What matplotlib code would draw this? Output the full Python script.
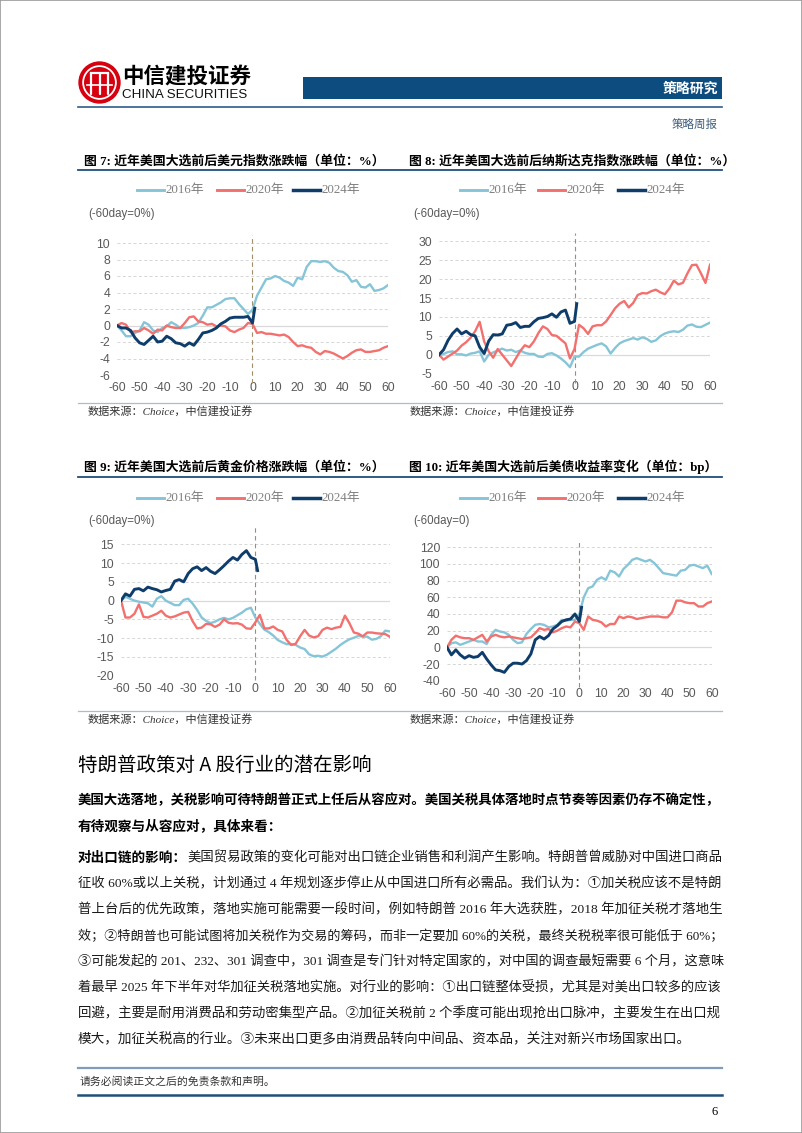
import matplotlib
matplotlib.use('Agg')
import matplotlib.pyplot as plt
from matplotlib.lines import Line2D
from matplotlib.patches import Rectangle, Circle

# ---------------- data ----------------
days_full = list(range(-60, 61, 2))
days_2024 = list(range(-60, 1, 2)) + [1]

dollar_2016 = [0, -0.6, -1.3, -1.3, -0.9, -0.6, 0.4, 0.1, -0.6, -0.8,
               -0.3, -0.1, 0.4, 0.1, -0.3, -0.3, -0.2, 0.0, 0.3, 1.2,
               2.2, 2.2, 2.5, 2.8, 3.2, 3.3, 3.3, 2.6, 2.0, 1.4,
               1.9, 3.6, 4.6, 5.6, 5.7, 6.0, 5.8, 5.4, 5.2, 4.8,
               5.8, 5.6, 7.1, 7.8, 7.8, 7.7, 7.8, 7.6, 7.0, 6.6,
               6.5, 6.1, 5.3, 5.5, 4.7, 4.6, 5.0, 4.2, 4.3, 4.5,
               4.9]
dollar_2020 = [0, 0.3, 0.1, -0.8, -0.7, -0.7, -0.3, -0.6, -1.0, -0.5,
               -0.6, 0.0, -0.2, -0.3, -0.3, 0.3, 1.0, 1.1, 0.5, 0.4,
               0.1, 0.2, -0.1, 0.0, -0.1, -0.6, -0.8, -0.5, -0.3, 0.3,
               0.2, -0.9, -0.8, -1.0, -1.0, -1.1, -1.2, -1.1, -1.4, -2.0,
               -2.5, -2.4, -2.6, -2.7, -3.2, -3.5, -3.1, -3.2, -3.4, -3.7,
               -4.0, -3.7, -3.3, -3.0, -2.9, -3.2, -3.2, -3.1, -3.0, -2.7,
               -2.5]
dollar_2024 = [0, -0.3, -0.3, -0.6, -1.5, -2.1, -2.3, -1.8, -1.3, -2.0,
               -1.9, -1.3, -1.6, -2.1, -2.2, -2.5, -2.1, -2.4, -1.7, -0.9,
               -0.8, -0.6, -0.3, 0.2, 0.5, 0.9, 1.0, 1.0, 1.0, 1.1,
               0.3, 2.1]

nasdaq_2016 = [0, 0.2, 0.7, 0.9, 0.1, 0.1, -0.2, 0.3, 0.5, 0.9,
               -1.8, 0.0, 0.6, 1.1, 1.6, 1.1, 1.3, 0.7, 1.1, 0.5,
               0.2, 0.2, -0.5, -0.6, 0.2, 0.4, -0.2, -1.0, -2.0, -3.3,
               -0.5, -0.5, 0.7, 1.6, 2.1, 2.6, 3.0, 2.2, 0.3, 1.8,
               3.0, 3.6, 4.0, 4.4, 4.0, 4.6, 4.2, 3.4, 3.8, 4.9,
               5.6, 6.0, 6.2, 6.0, 6.6, 7.7, 8.0, 7.4, 7.3, 7.9,
               8.5]
nasdaq_2020 = [0, -1.3, -0.5, 0.3, 1.1, 2.4, 3.3, 4.5, 6.2, 8.7,
               3.5, 0.9, -0.8, 1.5, 0.0, -1.5, -3.0, -1.0, 1.0, 2.5,
               2.0, 3.5, 5.7, 7.5, 6.8, 5.2, 5.0, 4.0, 3.0, -1.0,
               1.5, 7.9, 7.0, 5.5, 7.5, 7.8, 7.8, 8.8, 10.5, 12.3,
               13.5, 14.2, 12.5, 13.7, 15.8, 16.3, 16.2, 16.8, 17.2, 16.5,
               16.0, 17.5, 19.6, 18.6, 19.0, 21.5, 23.7, 23.8, 21.5, 19.0,
               23.8]
nasdaq_2024 = [0, 1.3, 3.8, 5.6, 6.8, 5.5, 6.2, 5.3, 5.0, 2.0,
               0.3, 3.6, 5.3, 5.2, 5.5, 7.8, 8.0, 8.5, 7.2, 7.5,
               7.5, 8.7, 9.6, 9.8, 10.1, 10.8, 9.9, 11.3, 11.8, 8.3,
               8.8, 13.5]

gold_2016 = [0, 1.0, 0.5, 0.0, -0.3, -0.5, -0.7, -1.6, 0.5, 1.2,
             0.0, -0.6, -1.2, -1.2, 0.2, 0.5, -0.8, -2.5, -4.5, -5.4,
             -6.0, -5.6, -5.0, -4.6, -5.0, -4.6, -3.9, -3.2, -2.3, -1.9,
             -4.5, -6.2, -7.7, -8.4, -9.3, -10.5, -11.1, -11.6, -11.6, -11.8,
             -12.5, -12.9, -14.3, -14.8, -14.7, -14.9, -14.4, -13.6, -12.8, -11.8,
             -11.0, -10.3, -9.9, -9.4, -9.6, -9.6, -10.4, -10.2, -9.5, -8.0,
             -8.2]
gold_2020 = [0, -4.5, -4.5, -3.5, -1.0, -4.3, -4.5, -4.0, -3.5, -2.7,
             -4.0, -4.5, -4.2, -3.7, -3.2, -3.0, -5.5, -7.4, -7.2, -6.2,
             -6.3, -7.0, -6.4, -5.0, -5.9, -6.1, -6.0, -6.4, -7.4, -7.5,
             -5.8, -3.8, -7.4, -7.4, -6.9, -7.8, -8.2, -10.5, -11.8, -11.5,
             -9.5, -7.8, -9.3, -9.8, -9.5, -7.8, -7.2, -7.6, -7.2, -7.0,
             -4.0, -6.0, -8.5, -8.8, -9.5, -8.5, -8.5, -8.7, -8.8, -8.9,
             -9.6]
gold_2024 = [0, 1.8, 1.2, 3.0, 3.2, 2.6, 3.6, 3.2, 2.9, 2.3,
             2.7, 3.0, 5.2, 5.6, 5.0, 7.2, 8.5, 9.0, 8.0, 8.8,
             7.8, 7.2, 8.2, 9.3, 10.5, 11.5, 10.8, 12.3, 13.3, 11.5,
             11.0, 8.0]

yield_2016 = [0, 5, 6, 3, 5, 7, 9, 7, 7, 4,
              15, 21, 19, 18, 15, 9, 5, 6, 16, 22,
              27, 28, 27, 24, 25, 27, 33, 32, 33, 33,
              40, 60, 71, 73, 81, 84, 81, 92, 90, 85,
              94, 99, 105, 107, 105, 103, 105, 101, 95, 89,
              88, 87, 86, 92, 93, 98, 99, 97, 95, 98,
              88]
yield_2020 = [0, 9, 14, 12, 11, 11, 9, 12, 15, 7,
              13, 15, 13, 12, 13, 12, 11, 10, 11, 12,
              17, 23, 21, 22, 18, 20, 23, 25, 24, 31,
              29, 21, 37, 33, 32, 30, 25, 28, 28, 37,
              35, 37, 36, 34, 35, 36, 37, 37, 37, 36,
              36, 42, 56, 56, 54, 53, 53, 49, 49, 53,
              55]
yield_2024 = [0, -9, -3, -9, -13, -10, -12, -11, -6, -14,
              -21, -27, -28, -30, -23, -19, -19, -20, -16, -8,
              9, 13, 10, 14, 22, 26, 31, 33, 34, 40,
              31, 48]

series_names = ['2016年', '2020年', '2024年']
x_ticks = list(range(-60, 61, 10))

titles = ['图 7: 近年美国大选前后美元指数涨跌幅（单位：%）',
          '图 8: 近年美国大选前后纳斯达克指数涨跌幅（单位：%）',
          '图 9: 近年美国大选前后黄金价格涨跌幅（单位：%）',
          '图 10: 近年美国大选前后美债收益率变化（单位：bp）']
unit_labels = ['(-60day=0%)', '(-60day=0%)', '(-60day=0%)', '(-60day=0)']
source_text = '数据来源：Choice，中信建投证券'

heading = '特朗普政策对 A 股行业的潜在影响'
bold_lines = ['美国大选落地，关税影响可待特朗普正式上任后从容应对。美国关税具体落地时点节奏等因素仍存不确定性，',
              '有待观察与从容应对，具体来看：']
para_lead = '对出口链的影响：'
para_lines = ['美国贸易政策的变化可能对出口链企业销售和利润产生影响。特朗普曾威胁对中国进口商品',
              '征收 60%或以上关税，计划通过 4 年规划逐步停止从中国进口所有必需品。我们认为：①加关税应该不是特朗',
              '普上台后的优先政策，落地实施可能需要一段时间，例如特朗普 2016 年大选获胜，2018 年加征关税才落地生',
              '效；②特朗普也可能试图将加关税作为交易的筹码，而非一定要加 60%的关税，最终关税税率很可能低于 60%；',
              '③可能发起的 201、232、301 调查中，301 调查是专门针对特定国家的，对中国的调查最短需要 6 个月，这意味',
              '着最早 2025 年下半年对华加征关税落地实施。对行业的影响：①出口链整体受损，尤其是对美出口较多的应该',
              '回避，主要是耐用消费品和劳动密集型产品。②加征关税前 2 个季度可能出现抢出口脉冲，主要发生在出口规',
              '模大，加征关税高的行业。③未来出口更多由消费品转向中间品、资本品，关注对新兴市场国家出口。']

# ---------------- styling ----------------
plt.rcParams['axes.unicode_minus'] = False
plt.rcParams['font.family'] = ['Liberation Sans', 'Noto Sans CJK SC']
CJK = ['Noto Sans CJK SC', 'DejaVu Sans']
SERIF = ['Liberation Serif', 'Noto Sans CJK SC']
C16, C20, C24 = '#86C5D8', '#F2706E', '#0E3D6B'
NAVY = '#1F4E79'

W, H = 802, 1133
fig = plt.figure(figsize=(W / 100, H / 100), dpi=100)
renderer = fig.canvas.get_renderer()


def fx(x):
    return x / W


def fy(y):
    return 1 - y / H


def hline(x0, x1, y, color, lw):
    fig.add_artist(Line2D([fx(x0), fx(x1)], [fy(y), fy(y)], color=color, lw=lw,
                          transform=fig.transFigure))


def txt(x, y, s, size, color='black', ha='left', va='center', weight='normal',
        family=CJK, style='normal'):
    return fig.text(fx(x), fy(y), s, fontsize=size, color=color, ha=ha, va=va,
                    fontweight=weight, family=family, fontstyle=style)


def fit(t, target_px, base):
    w = t.get_window_extent(renderer).width
    s = base * target_px / w
    s = min(max(s, base * 0.88), base * 1.04)
    t.set_fontsize(s)
    return t.get_window_extent(renderer).width


# page border
fig.add_artist(Rectangle((0, 0), 1, 1, transform=fig.transFigure, fill=False,
                         edgecolor='#9A9A9A', lw=1.2))

# ---------------- header ----------------
lax = fig.add_axes([fx(78), fy(104), 43 / W, 43 / H])
lax.set_xlim(-1.05, 1.05)
lax.set_ylim(-1.05, 1.05)
lax.set_aspect('equal')
lax.axis('off')
lax.add_patch(Circle((0, 0), 1.0, color='#D7000F'))
lax.add_patch(Circle((0, 0), 0.80, fill=False, edgecolor='white', lw=1.3))
for xv in (-0.42, 0.0, 0.42):
    lax.plot([xv, xv], [-0.55, 0.45], color='white', lw=1.6, solid_capstyle='round')
lax.plot([-0.42, 0.42], [0.45, 0.45], color='white', lw=1.6)
lax.plot([-0.6, 0.6], [-0.1, -0.1], color='white', lw=1.2)

txt(122, 76, '中信建投证券', 15.5, weight='bold', family=CJK)
txt(122, 95, 'CHINA SECURITIES', 9.6, family=['Liberation Sans'], color='#111111')

fig.add_artist(Rectangle((fx(303), fy(99)), fx(722) - fx(303), (99 - 77) / H,
                         transform=fig.transFigure, facecolor='#0D4C7E', edgecolor='none'))
txt(718, 88.5, '策略研究', 10, color='white', ha='right', weight='bold')
hline(78, 722, 107, '#2E5C8A', 1.2)
txt(718, 124, '策略周报', 8.3, color='#3D5C7A', ha='right')

# ---------------- charts ----------------
chart_specs = [
    dict(rect=(117, 243, 388, 375), ylim=(-6, 10), yticks=list(range(-6, 11, 2)),
         data=(dollar_2016, dollar_2020, dollar_2024), vtop=1.06, vbot=-0.06,
         title_xy=(84, 161), leg_x=(137, 217, 293), leg_y=190.5, unit_xy=(88, 214)),
    dict(rect=(439, 241.3, 710, 373.6), ylim=(-5, 30), yticks=list(range(-5, 31, 5)),
         data=(nasdaq_2016, nasdaq_2020, nasdaq_2024), vtop=1.06, vbot=-0.07,
         title_xy=(409, 161), leg_x=(460, 538, 618), leg_y=190.5, unit_xy=(413, 214)),
    dict(rect=(121, 544.3, 389.7, 675.7), ylim=(-20, 15), yticks=list(range(-20, 16, 5)),
         data=(gold_2016, gold_2020, gold_2024), vtop=1.14, vbot=-0.03,
         title_xy=(84, 467), leg_x=(137, 217, 293), leg_y=498, unit_xy=(88, 521)),
    dict(rect=(447, 547.3, 711.7, 680.7), ylim=(-40, 120), yticks=list(range(-40, 121, 20)),
         data=(yield_2016, yield_2020, yield_2024), vtop=1.05, vbot=-0.045,
         title_xy=(409, 467), leg_x=(460, 538, 618), leg_y=498, unit_xy=(413, 521)),
]

colors = (C16, C20, C24)
widths = (1.7, 1.7, 2.1)

for i, spec in enumerate(chart_specs):
    x0, ytop, x1, ybot = spec['rect']
    ax = fig.add_axes([fx(x0), fy(ybot), (x1 - x0) / W, (ybot - ytop) / H])
    ax.set_xlim(-60, 60)
    ax.set_ylim(*spec['ylim'])
    ax.set_xticks(x_ticks)
    ax.set_yticks(spec['yticks'])
    for s in ax.spines.values():
        s.set_visible(False)
    ax.tick_params(length=0, labelsize=8.8, labelcolor='#595959', pad=5)
    for lab in ax.get_xticklabels() + ax.get_yticklabels():
        lab.set_family(['Liberation Sans'])
    for t in spec['yticks']:
        if t == 0:
            ax.axhline(0, color='#D9D9D9', lw=0.9, zorder=1)
        else:
            ax.axhline(t, color='#D6D6D6', lw=0.7, ls=(0, (3, 2.5)), zorder=1)
    ax.axvline(0, ymin=spec['vbot'], ymax=spec['vtop'], color='#A38E68', lw=0.8,
               ls=(0, (4, 3)), clip_on=False, zorder=2)
    d16, d20, d24 = spec['data']
    ax.plot(days_full, d16, color=C16, lw=widths[0], zorder=3, solid_joinstyle='round')
    ax.plot(days_full, d20, color=C20, lw=widths[1], zorder=4, solid_joinstyle='round')
    ax.plot(days_2024, d24, color=C24, lw=widths[2], zorder=5, solid_joinstyle='round')

    # title
    tx, ty = spec['title_xy']
    txt(tx, ty, titles[i], 9.3, weight='bold', family=SERIF)
    # legend
    for lx, name, c, lw in zip(spec['leg_x'], series_names, colors, widths):
        fig.add_artist(Line2D([fx(lx), fx(lx + 27)], [fy(spec['leg_y'])] * 2, color=c,
                              lw=lw + 0.4, transform=fig.transFigure))
        txt(lx + 28, spec['leg_y'], name, 9.3, color='#7F7F7F', family=SERIF)
    # unit
    ux, uy = spec['unit_xy']
    txt(ux, uy, unit_labels[i], 8.3, color='#595959', family=['Liberation Sans'])

# title underlines and source lines
hline(78, 722, 170.5, NAVY, 1.3)
hline(78, 722, 477.5, NAVY, 1.3)
hline(78, 722, 403, '#A9BCD0', 0.9)
hline(78, 722, 711, '#A9BCD0', 0.9)
for sx, sy in ((88, 412), (410, 412), (88, 720), (410, 720)):
    txt(sx, sy, source_text, 8, color='#333333', family=SERIF, style='italic')

# ---------------- body text ----------------
LEFT, RIGHT = 78, 722
BODY = 9.8
txt(LEFT, 765, heading, 14, family=CJK, weight='medium')
for k, line in enumerate(bold_lines):
    t = txt(LEFT, 800 + 26 * k, line, BODY, weight='bold', family=SERIF)
    if k == 0:
        fit(t, RIGHT - LEFT, BODY)

lead = txt(LEFT, 858, para_lead, BODY, weight='bold', family=SERIF)
lead_w = lead.get_window_extent(renderer).width
for k, line in enumerate(para_lines):
    x_start = LEFT + lead_w if k == 0 else LEFT
    t = txt(x_start, 858 + 26 * k, line, BODY, color='#1A1A1A', family=SERIF)
    if k < len(para_lines) - 1:
        fit(t, RIGHT - x_start, BODY)

# ---------------- footer ----------------
hline(78, 722, 1068, '#7F9DB9', 1.6)
txt(80, 1081, '请务必阅读正文之后的免责条款和声明。', 7.8, color='#333333', family=SERIF)
hline(78, 722, 1095, NAVY, 1.8)
txt(718, 1112, '6', 9, ha='right', family=SERIF)

fig.savefig('out.png', dpi=100)
